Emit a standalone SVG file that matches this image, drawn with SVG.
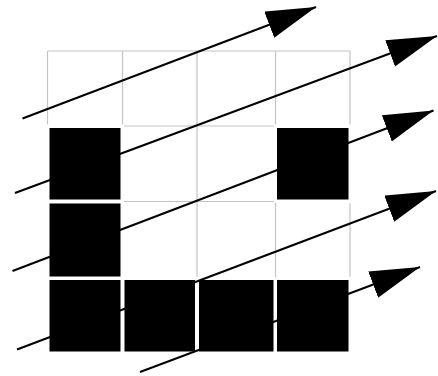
<svg xmlns="http://www.w3.org/2000/svg" width="438" height="376" viewBox="0 0 438 376">
<style>
.grid{stroke:#c4c4c4;stroke-width:1.2;fill:none}
.gap{fill:#fff}
.cell{fill:#000}
.conn{stroke:#000;stroke-width:2;fill:none;marker-end:url(#head)}
</style>
<defs>
<marker id="head" markerUnits="userSpaceOnUse" markerWidth="52" markerHeight="30" refX="50" refY="14" orient="auto" viewBox="0 0 52 30">
<path d="M0,0 L50,14 L0,28 Z" fill="#000"/>
</marker>
</defs>
<rect width="438" height="376" fill="#fff"/>
<g id="grid" class="grid">
<path d="M47.5,51V352M122.5,51V352M197,51V352M275.5,51V352M350,51V352M47.5,51H350M47.5,126H350M47.5,201.5H350M47.5,278.5H350M47.5,352H350"/>
</g>
<g id="gaps" class="gap">
<rect x="46" y="124.5" width="78" height="78.5"/>
<rect x="274" y="124.5" width="77.5" height="78.5"/>
<rect x="46" y="200" width="78" height="80"/>
<rect x="46" y="277" width="305.5" height="76.5"/>
</g>
<g id="connectors">
<line class="conn" x1="22.5" y1="118.5" x2="316" y2="7"/>
<line class="conn" x1="15" y1="193" x2="437" y2="36"/>
<line class="conn" x1="12.5" y1="271" x2="433.5" y2="110.5"/>
<line class="conn" x1="17" y1="349.5" x2="436" y2="191"/>
<line class="conn" x1="140" y1="372" x2="420" y2="267"/>
</g>
<g id="cell-r1c0"><rect class="cell" x="49.5" y="128" width="71" height="71.5"/></g>
<g id="cell-r1c3"><rect class="cell" x="277" y="128" width="71.5" height="71.5"/></g>
<g id="cell-r2c0"><rect class="cell" x="49.5" y="203.5" width="71" height="73"/></g>
<g id="cell-r3c0"><rect class="cell" x="49.5" y="280" width="71" height="71.5"/></g>
<g id="cell-r3c1"><rect class="cell" x="124.5" y="280" width="70.5" height="71.5"/></g>
<g id="cell-r3c2"><rect class="cell" x="199" y="280" width="74.5" height="71.5"/></g>
<g id="cell-r3c3"><rect class="cell" x="277" y="280" width="71.5" height="71.5"/></g>
</svg>
